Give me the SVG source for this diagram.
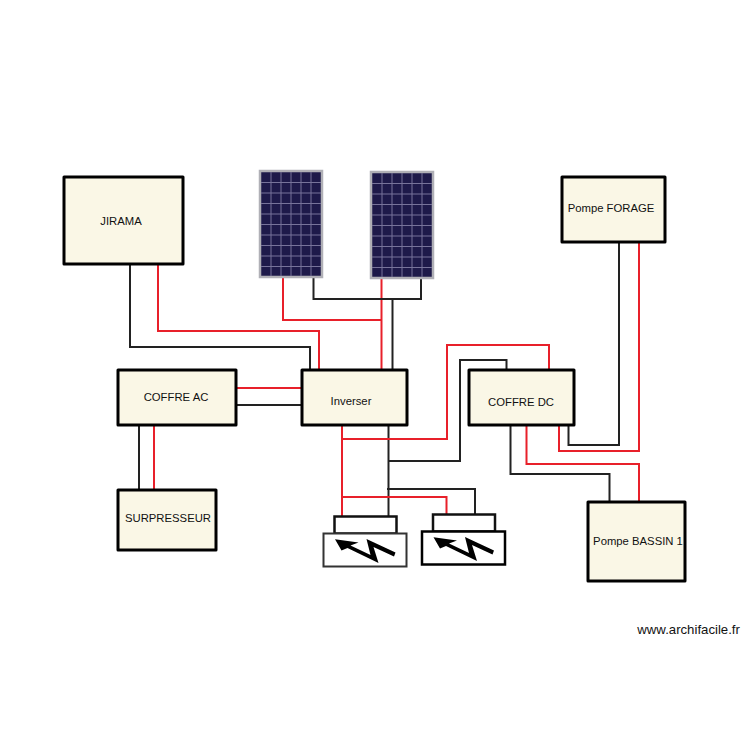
<svg xmlns="http://www.w3.org/2000/svg" width="750" height="750" viewBox="0 0 750 750">
<style>
.box{fill:#faf7e6;stroke:#000;stroke-width:3;stroke-linejoin:round}
.t{font-family:"Liberation Sans",Arial,sans-serif;font-size:11.3px;fill:#111;text-anchor:middle}
.r{fill:none;stroke:#e8202a;stroke-width:2}
.k{fill:none;stroke:#222;stroke-width:2}
.frame{fill:#1e1a4a;stroke:#b0b0b6;stroke-width:2.500}
.grid{fill:none;stroke:#77739a;stroke-width:1}
.w{fill:#fff;stroke:#111;stroke-width:2.500}
.w2{fill:#fff;stroke:#333;stroke-width:2}
.w3{fill:#fff;stroke:#000;stroke-width:2.500}
.bolt{fill:#000;stroke:none}
</style>
<defs>
<path id="bolt" class="bolt" d="M11.500 22.800L35 26L27 29L47 38.500L43 22.500L72 36L70.500 40L50 30.500L55 46.500L24 31.500L18 34Z"/>
<path id="grid" class="grid" d="M11 1V105M21 1V105M31 1V105M41 1V105M51 1V105M1 11.500H61M1 22H61M1 32.500H61M1 43H61M1 53.500H61M1 64H61M1 74.500H61M1 85H61M1 95.500H61"/>
</defs>
<rect width="750" height="750" fill="#fff"/>
<g id="connectors">
<path class="k" d="M130 264V347H310V370"/>
<path class="r" d="M158 264V331H319V370"/>
<path class="r" d="M283 277V320H381.500"/>
<path class="r" d="M381.500 278V370"/>
<path class="k" d="M313.500 277V299H422"/>
<path class="k" d="M421 278V299"/>
<path class="k" d="M392.500 299V370"/>
<path class="r" d="M236 388H302"/>
<path class="k" d="M236 405H302"/>
<path class="k" d="M139 425V490"/>
<path class="r" d="M154 425V490"/>
<path class="r" d="M342 425V516"/>
<path class="k" d="M388.500 425V516"/>
<path class="r" d="M342 439H447V345H549V370"/>
<path class="k" d="M388.500 461H460V360H506.500V370"/>
<path class="r" d="M342 497H446.500V516"/>
<path class="k" d="M387 489H475V514"/>
<path class="k" d="M568.500 425V445H619V242"/>
<path class="r" d="M559 425V451H639V242"/>
<path class="r" d="M526.500 425V464H639V502"/>
<path class="k" d="M510.500 425V474H609.500V502"/>
</g>
<g id="jirama"><rect class="box" x="64" y="177" width="119" height="87"/><text class="t" x="121" y="225">JIRAMA</text></g>
<g id="panel1"><g transform="translate(260 171)"><rect class="frame" width="62" height="106"/><use href="#grid"/></g></g>
<g id="panel2"><g transform="translate(371 172)"><rect class="frame" width="62" height="106"/><use href="#grid"/></g></g>
<g id="pompe-forage"><rect class="box" x="562" y="177" width="103" height="65"/><text class="t" x="611" y="212">Pompe FORAGE</text></g>
<g id="coffre-ac"><rect class="box" x="118" y="370" width="118" height="55"/><text class="t" x="176" y="401">COFFRE AC</text></g>
<g id="inverser"><rect class="box" x="302" y="370" width="105" height="55"/><text class="t" x="351" y="405">Inverser</text></g>
<g id="coffre-dc"><rect class="box" x="469" y="370" width="105" height="55"/><text class="t" x="521" y="406">COFFRE DC</text></g>
<g id="surpresseur"><rect class="box" x="118" y="490" width="98" height="60"/><text class="t" x="168" y="522">SURPRESSEUR</text></g>
<g id="pompe-bassin"><rect class="box" x="588" y="502" width="97" height="79"/><text class="t" x="638" y="545">Pompe BASSIN 1</text></g>
<g id="breaker1" transform="translate(323.500 516.500)"><rect class="w" x="11" y="0" width="62" height="17"/><rect class="w2" x="0" y="17" width="83" height="33"/><use href="#bolt"/></g>
<g id="breaker2" transform="translate(422 514.500)"><rect class="w" x="11" y="0" width="62" height="17"/><rect class="w3" x="0" y="17" width="83" height="33"/><use href="#bolt"/></g>
<text x="637.300" y="634" font-family="Liberation Sans,Arial,sans-serif" font-size="13.200" fill="#111">www.archifacile.fr</text>
</svg>
